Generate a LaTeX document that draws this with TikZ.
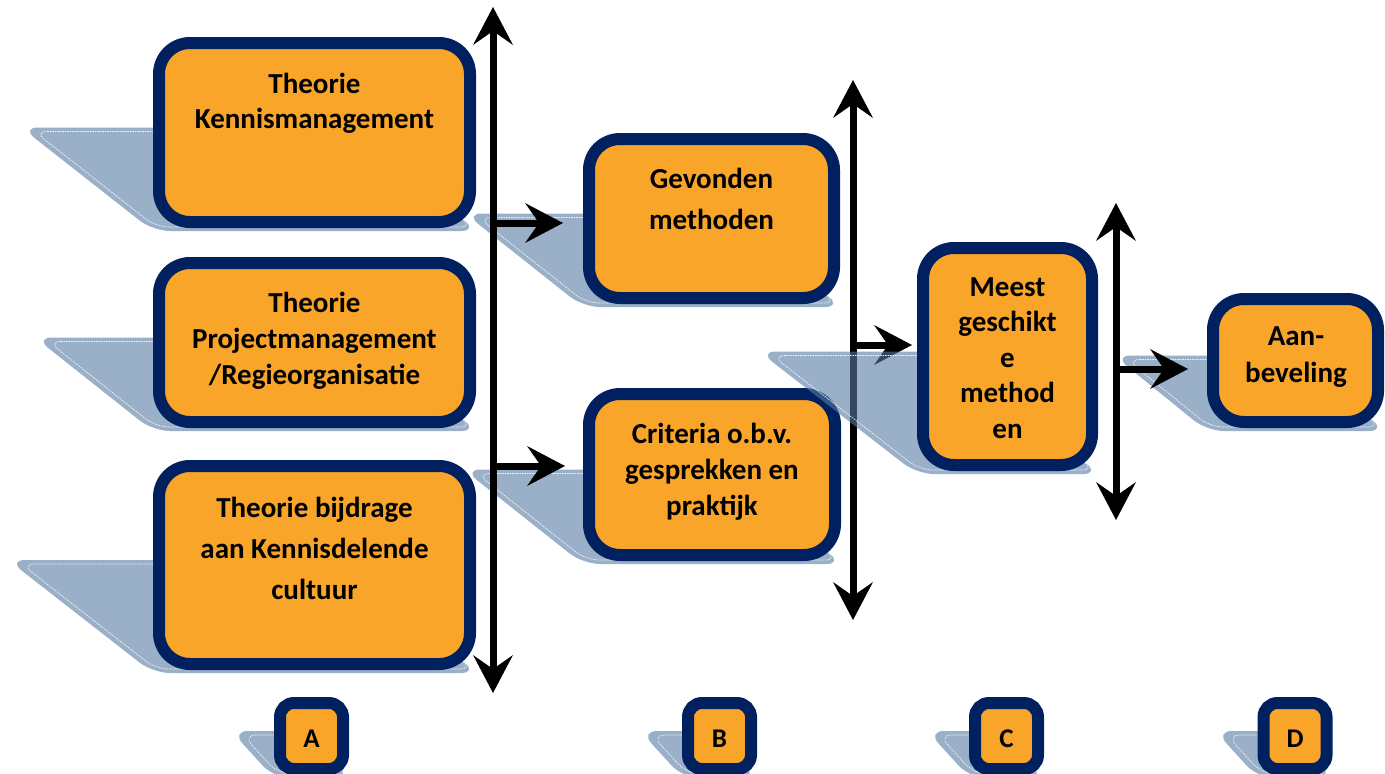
\documentclass[tikz,border=0pt]{standalone}
\usepackage{fontspec}
\setmainfont{Carlito}
\usetikzlibrary{arrows.meta}
\definecolor{boxfill}{RGB}{249,165,42}
\definecolor{boxline}{RGB}{0,32,96}
\definecolor{shcol}{RGB}{87,123,163}
\newcommand{\boxtxt}[2]{\fontsize{29}{#1}\selectfont\bfseries\begin{tabular}[t]{@{}c@{}}#2\end{tabular}}
\newcommand{\mkshadow}[5]{%
  \pgfmathsetmacro\sdH{#4-#2}%
  \pgfmathsetmacro\sdM{(#2+#4)/2-5}%
  \pgfmathsetmacro\sdD{#5*\sdH}%
  \pgfmathsetmacro\sdR{\sdD/(#4+3-\sdM)}%
  \fill[shadowfill] (#1-\sdD,\sdM) -- (#3-\sdD,\sdM) -- (#3+2,#4+3) -- (#1,#4+3) -- cycle;
  \draw[shadowline] (#1-\sdD+8+4*\sdR,\sdM+4) -- (#3-\sdD,\sdM+4) -- (#3-3,#4-1) -- (#1+8-4*\sdR,#4-1) -- cycle;
}
\tikzset{
  bigS/.tip={Stealth[length=38pt,width=40pt,inset=14pt,line width=0pt]},
  shadowfill/.style={fill=shcol, fill opacity=0.6, rounded corners=17pt},
  shadowline/.style={draw=white, line width=0.7pt, dash pattern=on 1.5pt off 1pt, rounded corners=13pt, draw opacity=0.9},
  abox/.style={rectangle, draw=boxline, line width=12pt, fill=boxfill, rounded corners=31pt, inner sep=0pt},
  lbox/.style={rectangle, draw=boxline, line width=12pt, fill=boxfill, rounded corners=14pt, inner sep=0pt, minimum width=63pt, minimum height=66pt},
  btext/.style={anchor=base, inner sep=0pt, text=black},
  ltext/.style={anchor=base, inner sep=0pt, text=black, font=\fontsize{27}{32}\selectfont\bfseries},
  connector/.style={line width=7pt, -{bigS}},
  dconnector/.style={line width=7pt, {bigS}-{bigS}},
}
\begin{document}
\begin{tikzpicture}[x=1pt,y=-1pt]
\useasboundingbox (0,0) rectangle (1385,774);

% column A
\mkshadow{153}{37}{476}{228}{0.69}
\node[abox, minimum width=311pt, minimum height=179pt] (A1) at (314.5,132.5) {};
\node[btext] (tA1) at (314.5,93) {\boxtxt{35.5}{Theorie\\Kennismanagement}};
\mkshadow{153}{257}{476}{428}{0.69}
\node[abox, minimum width=311pt, minimum height=159pt] (A2) at (314.5,342.5) {};
\node[btext] (tA2) at (314.5,312) {\boxtxt{36}{Theorie\\Projectmanagement\\/Regieorganisatie}};
\mkshadow{153}{460}{476}{670}{0.69}
\node[abox, minimum width=311pt, minimum height=198pt] (A3) at (314.5,565) {};
\node[btext] (tA3) at (314.5,517) {\boxtxt{41}{Theorie bijdrage\\aan Kennisdelende\\cultuur}};

% column B
\mkshadow{583}{133}{840}{304}{0.69}
\node[abox, minimum width=245pt, minimum height=159pt] (B1) at (711.5,218.5) {};
\node[btext] (tB1) at (711.5,188) {\boxtxt{41}{Gevonden\\methoden}};
\mkshadow{583}{388}{841}{561}{0.69}
\node[abox, minimum width=246pt, minimum height=161pt] (B2) at (712,474.5) {};
\node[btext] (tB2) at (712,443) {\boxtxt{36}{Criteria o.b.v.\\gesprekken en\\praktijk}};

% line A and arrows to B
\coordinate (LAtop) at (493,7);
\coordinate (LAbot) at (493,693);
\coordinate (LA1) at (493,223);
\coordinate (LA2) at (493,466);
\draw[dconnector] (LAbot) -- (LAtop);
\draw[connector, shorten >=20pt] (LA1) -- (LA1 -| B1.west);
\draw[connector, shorten >=18pt] (LA2) -- (LA2 -| B2.west);

% line B and arrow to C
\coordinate (LBtop) at (853,80);
\coordinate (LBbot) at (853,620);
\coordinate (LB1) at (853,345);
\draw[dconnector] (LBbot) -- (LBtop);
\coordinate (Cw) at (917,345);
\draw[connector, shorten >=5pt] (LB1) -- (Cw);

% column C
\mkshadow{917}{242}{1098}{471}{0.69}
\node[abox, minimum width=169pt, minimum height=217pt] (C) at (1007.5,356.5) {};
\node[btext] (tC) at (1007.5,296) {\boxtxt{35.5}{Meest\\geschikt\\e\\method\\en}};

% column D
\mkshadow{1207}{293}{1384}{428}{0.69}
\node[abox, minimum width=165pt, minimum height=123pt] (D) at (1295.5,360.5) {};
\node[btext] (tD) at (1296,345) {\boxtxt{37}{Aan-\\beveling}};

% line C and arrow to D
\coordinate (LCtop) at (1116,203);
\coordinate (LCbot) at (1116,520);
\coordinate (LC1) at (1116,369);
\draw[dconnector] (LCbot) -- (LCtop);
\draw[connector, shorten >=19pt] (LC1) -- (LC1 -| D.west);

% bottom labels
\mkshadow{274}{697}{349}{775}{0.55}
\node[lbox] (LA) at (311.5,736) {};
\node[ltext] (tLA) at (311.5,747) {A};
\mkshadow{683}{697}{756}{775}{0.55}
\node[lbox] (LB) at (719.5,736) {};
\node[ltext] (tLB) at (719.5,747) {B};
\mkshadow{970}{697}{1043}{775}{0.55}
\node[lbox] (LC) at (1006.5,736) {};
\node[ltext] (tLC) at (1006.5,747) {C};
\mkshadow{1258}{697}{1332}{775}{0.55}
\node[lbox] (LD) at (1295,736) {};
\node[ltext] (tLD) at (1295,747) {D};
\end{tikzpicture}
\end{document}
